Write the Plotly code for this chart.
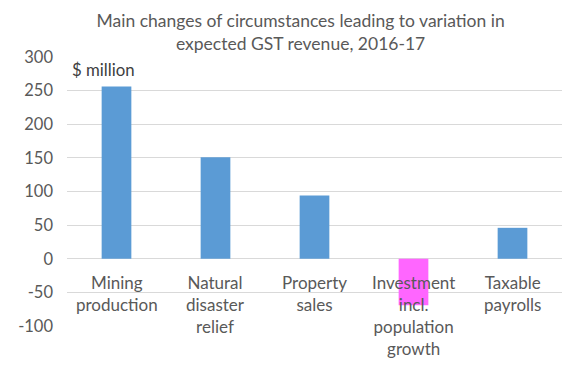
import plotly.graph_objects as go

categories = ["Mining<br>production", "Natural<br>disaster<br>relief", "Property<br>sales",
              "Investment<br>incl.<br>population<br>growth", "Taxable<br>payrolls"]
values = [256, 151, 94, -69, 46]
colors = ["#5B9BD5", "#5B9BD5", "#5B9BD5", "#FF66FF", "#5B9BD5"]
y_ticks = [-100, -50, 0, 50, 100, 150, 200, 250, 300]
y_tick_labels = ["-100", "-50", "0", "50", "100", "150", "200", "250", "300"]

FONT = "Lato"
GREY = "#595959"

fig = go.Figure()
fig.add_trace(go.Bar(x=categories, y=values, marker=dict(color=colors, line=dict(width=0)),
                     width=0.3, hoverinfo="skip"))

for c in categories:
    fig.add_annotation(x=c, y=0, xref="x", yref="y", text=c, showarrow=False,
                       yanchor="top", yshift=-11, font=dict(family=FONT, size=17, color=GREY))

fig.add_annotation(x=0.006, y=1.0, xref="paper", yref="paper", text="$ million",
                   showarrow=False, xanchor="left", yanchor="top",
                   font=dict(family=FONT, size=16.8, color="#404040"))

fig.update_layout(
    width=576, height=374,
    margin=dict(l=59, r=22, t=49, b=56, autoexpand=False),
    paper_bgcolor="white", plot_bgcolor="white",
    title=dict(text="Main changes of circumstances leading to variation in<br>expected GST revenue, 2016-17",
               x=0.508, xanchor="center", yref="container", y=0.949, yanchor="middle",
               font=dict(family=FONT, size=17.5, color=GREY)),
    showlegend=False,
    bargap=0.7,
    xaxis=dict(showticklabels=False, showgrid=False, zeroline=False, showline=False, ticks="",
               automargin=False),
    yaxis=dict(range=[-100, 300], tickvals=y_ticks, ticktext=y_tick_labels,
               showgrid=True, gridcolor="#D9D9D9",
               gridwidth=1, zeroline=True, zerolinecolor="#D9D9D9", zerolinewidth=1,
               showline=False, ticks="", ticklabelstandoff=13, automargin=False,
               tickfont=dict(family=FONT, size=16.5, color=GREY)),
    font=dict(family=FONT),
)

fig.write_html("out.html")
